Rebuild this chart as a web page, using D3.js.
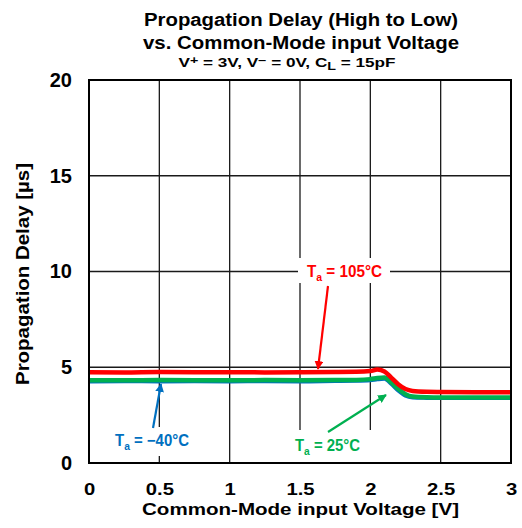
<!DOCTYPE html>
<html>
<head>
<meta charset="utf-8">
<script src="https://cdn.jsdelivr.net/npm/d3@7"></script>
<style>
  body { margin: 0; background: #fff; }
  svg { display: block; font-family: "Liberation Sans", Arial, sans-serif; }
</style>
</head>
<body>
<svg id="chart" width="522" height="528"></svg>
<script>
// Common-mode input voltage sweep [V]
const voltage = [0, 0.25, 0.5, 0.75, 1.0, 1.25, 1.5, 1.75, 1.9, 2.0, 2.05, 2.1, 2.15, 2.2, 2.25, 2.3, 2.4, 2.5, 2.75, 3.0];
// Propagation delay [µs] per ambient temperature
const delay105 = [4.74, 4.73, 4.75, 4.74, 4.74, 4.73, 4.74, 4.75, 4.76, 4.80, 4.88, 4.78, 4.45, 4.10, 3.86, 3.76, 3.72, 3.71, 3.70, 3.70];
const delay25  = [4.32, 4.32, 4.33, 4.32, 4.32, 4.33, 4.32, 4.33, 4.34, 4.38, 4.44, 4.47, 4.20, 3.86, 3.59, 3.47, 3.43, 3.42, 3.42, 3.42];
const delayM40 = [4.26, 4.27, 4.26, 4.27, 4.26, 4.27, 4.26, 4.28, 4.29, 4.32, 4.37, 4.40, 4.12, 3.77, 3.51, 3.42, 3.40, 3.39, 3.40, 3.39];
const xTicks = [0, 0.5, 1, 1.5, 2, 2.5, 3];
const yTicks = [0, 5, 10, 15, 20];

const svg = d3.select("#chart");
const plotL = 89, plotR = 511, plotT = 80, plotB = 463;

const x = d3.scaleLinear().domain([0, 3]).range([plotL, plotR]);
const y = d3.scaleLinear().domain([0, 20]).range([plotB, plotT]);

// Titles (widths fixed with textLength)
function boldText(px, py, size, len, str) {
  return svg.append("text").attr("x", px).attr("y", py).attr("text-anchor", "middle")
    .attr("font-size", size).attr("font-weight", "bold")
    .attr("textLength", len).attr("lengthAdjust", "spacingAndGlyphs").text(str);
}
boldText(301, 26, 17.5, 314, "Propagation Delay (High to Low)");
boldText(301, 48.5, 17.5, 316, "vs. Common-Mode input Voltage");
const sub = svg.append("text").attr("x", 287).attr("y", 66.5).attr("text-anchor", "middle")
  .attr("font-size", 12).attr("font-weight", "bold")
  .attr("textLength", 217).attr("lengthAdjust", "spacingAndGlyphs");
sub.append("tspan").text("V");
sub.append("tspan").attr("font-size", 10).attr("dy", -3).text("+");
sub.append("tspan").attr("dy", 3).text(" = 3V, V");
sub.append("tspan").attr("font-size", 10).attr("dy", -3).text("\u2212");
sub.append("tspan").attr("dy", 3).text(" = 0V, C");
sub.append("tspan").attr("font-size", 10).attr("dy", 3).text("L");
sub.append("tspan").attr("dy", -3).text(" = 15pF");

// Grid
const grid = svg.append("g").attr("stroke", "#1a1a1a").attr("stroke-width", 1.3);
xTicks.slice(1, -1).forEach(v => grid.append("line")
  .attr("x1", x(v)).attr("x2", x(v)).attr("y1", plotT).attr("y2", plotB));
yTicks.slice(1, -1).forEach(v => grid.append("line")
  .attr("x1", plotL).attr("x2", plotR).attr("y1", y(v)).attr("y2", y(v)));

// Axes (labels only; frame drawn separately)
const xAxis = svg.append("g").attr("transform", `translate(0,${plotB})`)
  .call(d3.axisBottom(x).tickValues(xTicks).tickSize(0).tickPadding(20).tickFormat(d3.format("")));
const yAxis = svg.append("g").attr("transform", `translate(${plotL},0)`)
  .call(d3.axisLeft(y).tickValues(yTicks).tickSize(0).tickPadding(17));
[xAxis, yAxis].forEach(a => {
  a.select(".domain").remove();
  a.selectAll("text").attr("font-weight", "bold")
    .attr("font-family", "Liberation Sans, Arial, sans-serif").attr("fill", "#000");
});
xAxis.selectAll("text").attr("font-size", 17).attr("transform", "scale(1.19,1)");
yAxis.selectAll("text").attr("font-size", 20);

boldText(300.5, 515, 17, 317, "Common-Mode input Voltage [V]");
svg.append("text").attr("transform", "translate(29,274) rotate(-90)").attr("text-anchor", "middle")
  .attr("font-size", 17.5).attr("font-weight", "bold")
  .attr("textLength", 222).attr("lengthAdjust", "spacingAndGlyphs").text("Propagation Delay [µs]");

// Curves
const line = d3.line().x((d, i) => x(voltage[i])).y(d => y(d)).curve(d3.curveMonotoneX);
const series = [
  { data: delayM40, color: "#0070c0", w: 4 },
  { data: delay25, color: "#00b050", w: 4.5 },
  { data: delay105, color: "#ff0000", w: 4.5 }
];
series.forEach(s => svg.append("path").attr("d", line(s.data)).attr("fill", "none")
  .attr("stroke", s.color).attr("stroke-width", s.w).attr("stroke-linejoin", "round"));

// Frame
svg.append("rect").attr("x", plotL).attr("y", plotT).attr("width", plotR - plotL).attr("height", plotB - plotT)
  .attr("fill", "none").attr("stroke", "#000").attr("stroke-width", 2);

// Annotations: white box, label and arrow pointing at the curve
const defs = svg.append("defs");
function marker(id, color) {
  defs.append("marker").attr("id", id).attr("viewBox", "0 0 10 10").attr("refX", 9).attr("refY", 5)
    .attr("markerWidth", 4).attr("markerHeight", 4).attr("orient", "auto")
    .append("path").attr("d", "M0,0 L10,5 L0,10 z").attr("fill", color);
}
function label(cx, cy, len, color, temp, box, arrow, id) {
  marker(id, color);
  svg.append("rect").attr("x", box[0]).attr("y", box[1]).attr("width", box[2] - box[0])
    .attr("height", box[3] - box[1]).attr("fill", "#fff");
  svg.append("line").attr("x1", arrow[0]).attr("y1", arrow[1]).attr("x2", arrow[2]).attr("y2", arrow[3])
    .attr("stroke", color).attr("stroke-width", 2.2).attr("marker-end", `url(#${id})`);
  const t = svg.append("text").attr("x", cx).attr("y", cy).attr("text-anchor", "middle")
    .attr("font-size", 16).attr("font-weight", "bold").attr("fill", color)
    .attr("textLength", len).attr("lengthAdjust", "spacingAndGlyphs");
  t.append("tspan").text("T");
  t.append("tspan").attr("font-size", 11).attr("dy", 4).text("a");
  t.append("tspan").attr("dy", -4).text(" = " + temp);
}
label(344.5, 277, 75, "#ff0000", "105°C", [298, 258, 390, 283], [328, 286, 318, 369], "ar");
label(152, 446, 74, "#0070c0", "\u221240°C", [108, 427, 197, 456], [153, 428, 161, 384], "ab");
label(327.5, 451, 65, "#00b050", "25°C", [290, 430, 376, 462], [328, 432, 386, 395], "ag");
</script>
</body>
</html>
